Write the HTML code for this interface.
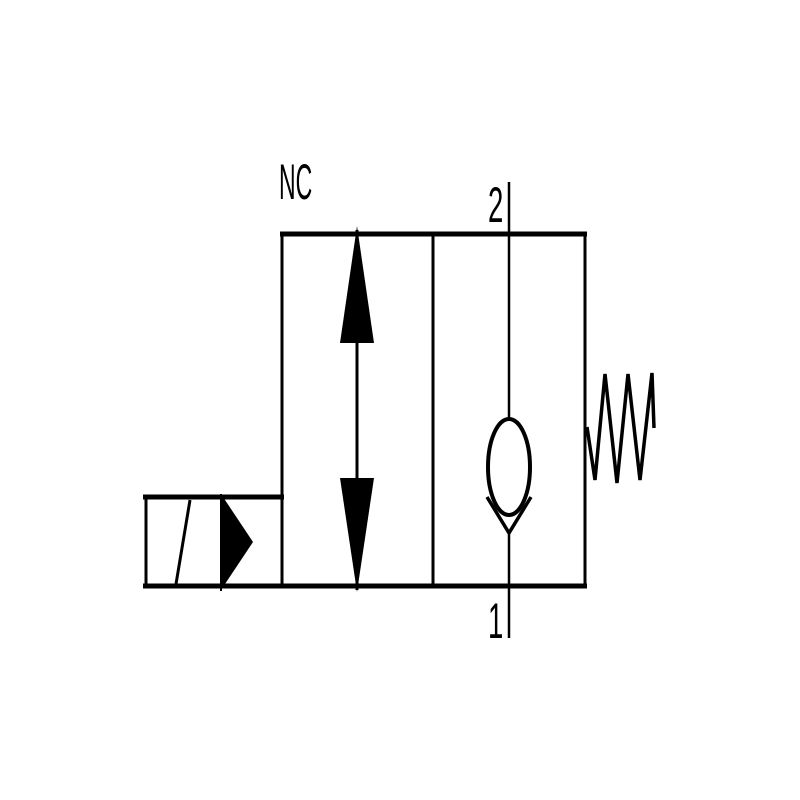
<!DOCTYPE html>
<html><head><meta charset="utf-8"><style>
html,body{margin:0;padding:0;background:#fff;}
svg{display:block;}
text{font-family:"Liberation Sans",sans-serif;}
</style></head><body>
<svg width="800" height="800" viewBox="0 0 800 800" xmlns="http://www.w3.org/2000/svg">
<rect width="800" height="800" fill="#fff"/>
<g stroke="#000" fill="none" stroke-linecap="butt">
  <line x1="282" y1="234" x2="282" y2="586" stroke-width="3"/>
  <line x1="585" y1="234" x2="585" y2="586" stroke-width="3"/>
  <line x1="433" y1="234" x2="433" y2="586" stroke-width="3"/>
  <line x1="280" y1="234" x2="587" y2="234" stroke-width="5"/>
  <line x1="143" y1="586" x2="587" y2="586" stroke-width="5"/>
  <line x1="143" y1="497" x2="284" y2="497" stroke-width="5"/>
  <line x1="146" y1="497" x2="146" y2="586" stroke-width="3"/>
  <line x1="176" y1="584" x2="190" y2="500" stroke-width="3"/>
  <line x1="221" y1="494" x2="221" y2="591" stroke-width="2"/>
  <line x1="357" y1="230" x2="357" y2="590" stroke-width="3"/>
  <line x1="509" y1="182" x2="509" y2="418" stroke-width="2.5"/>
  <line x1="509" y1="533" x2="509" y2="638" stroke-width="2.5"/>
  <ellipse cx="509" cy="467" rx="21" ry="48" stroke-width="4"/>
  <polyline points="487,497 509,533 531,497" stroke-width="3.5"/>
  <polyline points="587,427 595,480 605,374 617,483 628,374 640,480 652,373 654,428" stroke-width="3.5" stroke-linejoin="miter"/>
</g>
<g fill="#000">
  <polygon points="221,494 253,542 221,590"/>
  <polygon points="357,226 340,343 374,343"/>
  <polygon points="357,592 340,478 374,478"/>
</g>
<text x="0" y="0" font-size="50" transform="translate(279,199) scale(0.46,1)">NC</text>
<text x="0" y="0" font-size="50" transform="translate(488,222) scale(0.55,1)">2</text>
<text x="0" y="0" font-size="50" transform="translate(488,638) scale(0.55,1)">1</text>
</svg>
</body></html>
